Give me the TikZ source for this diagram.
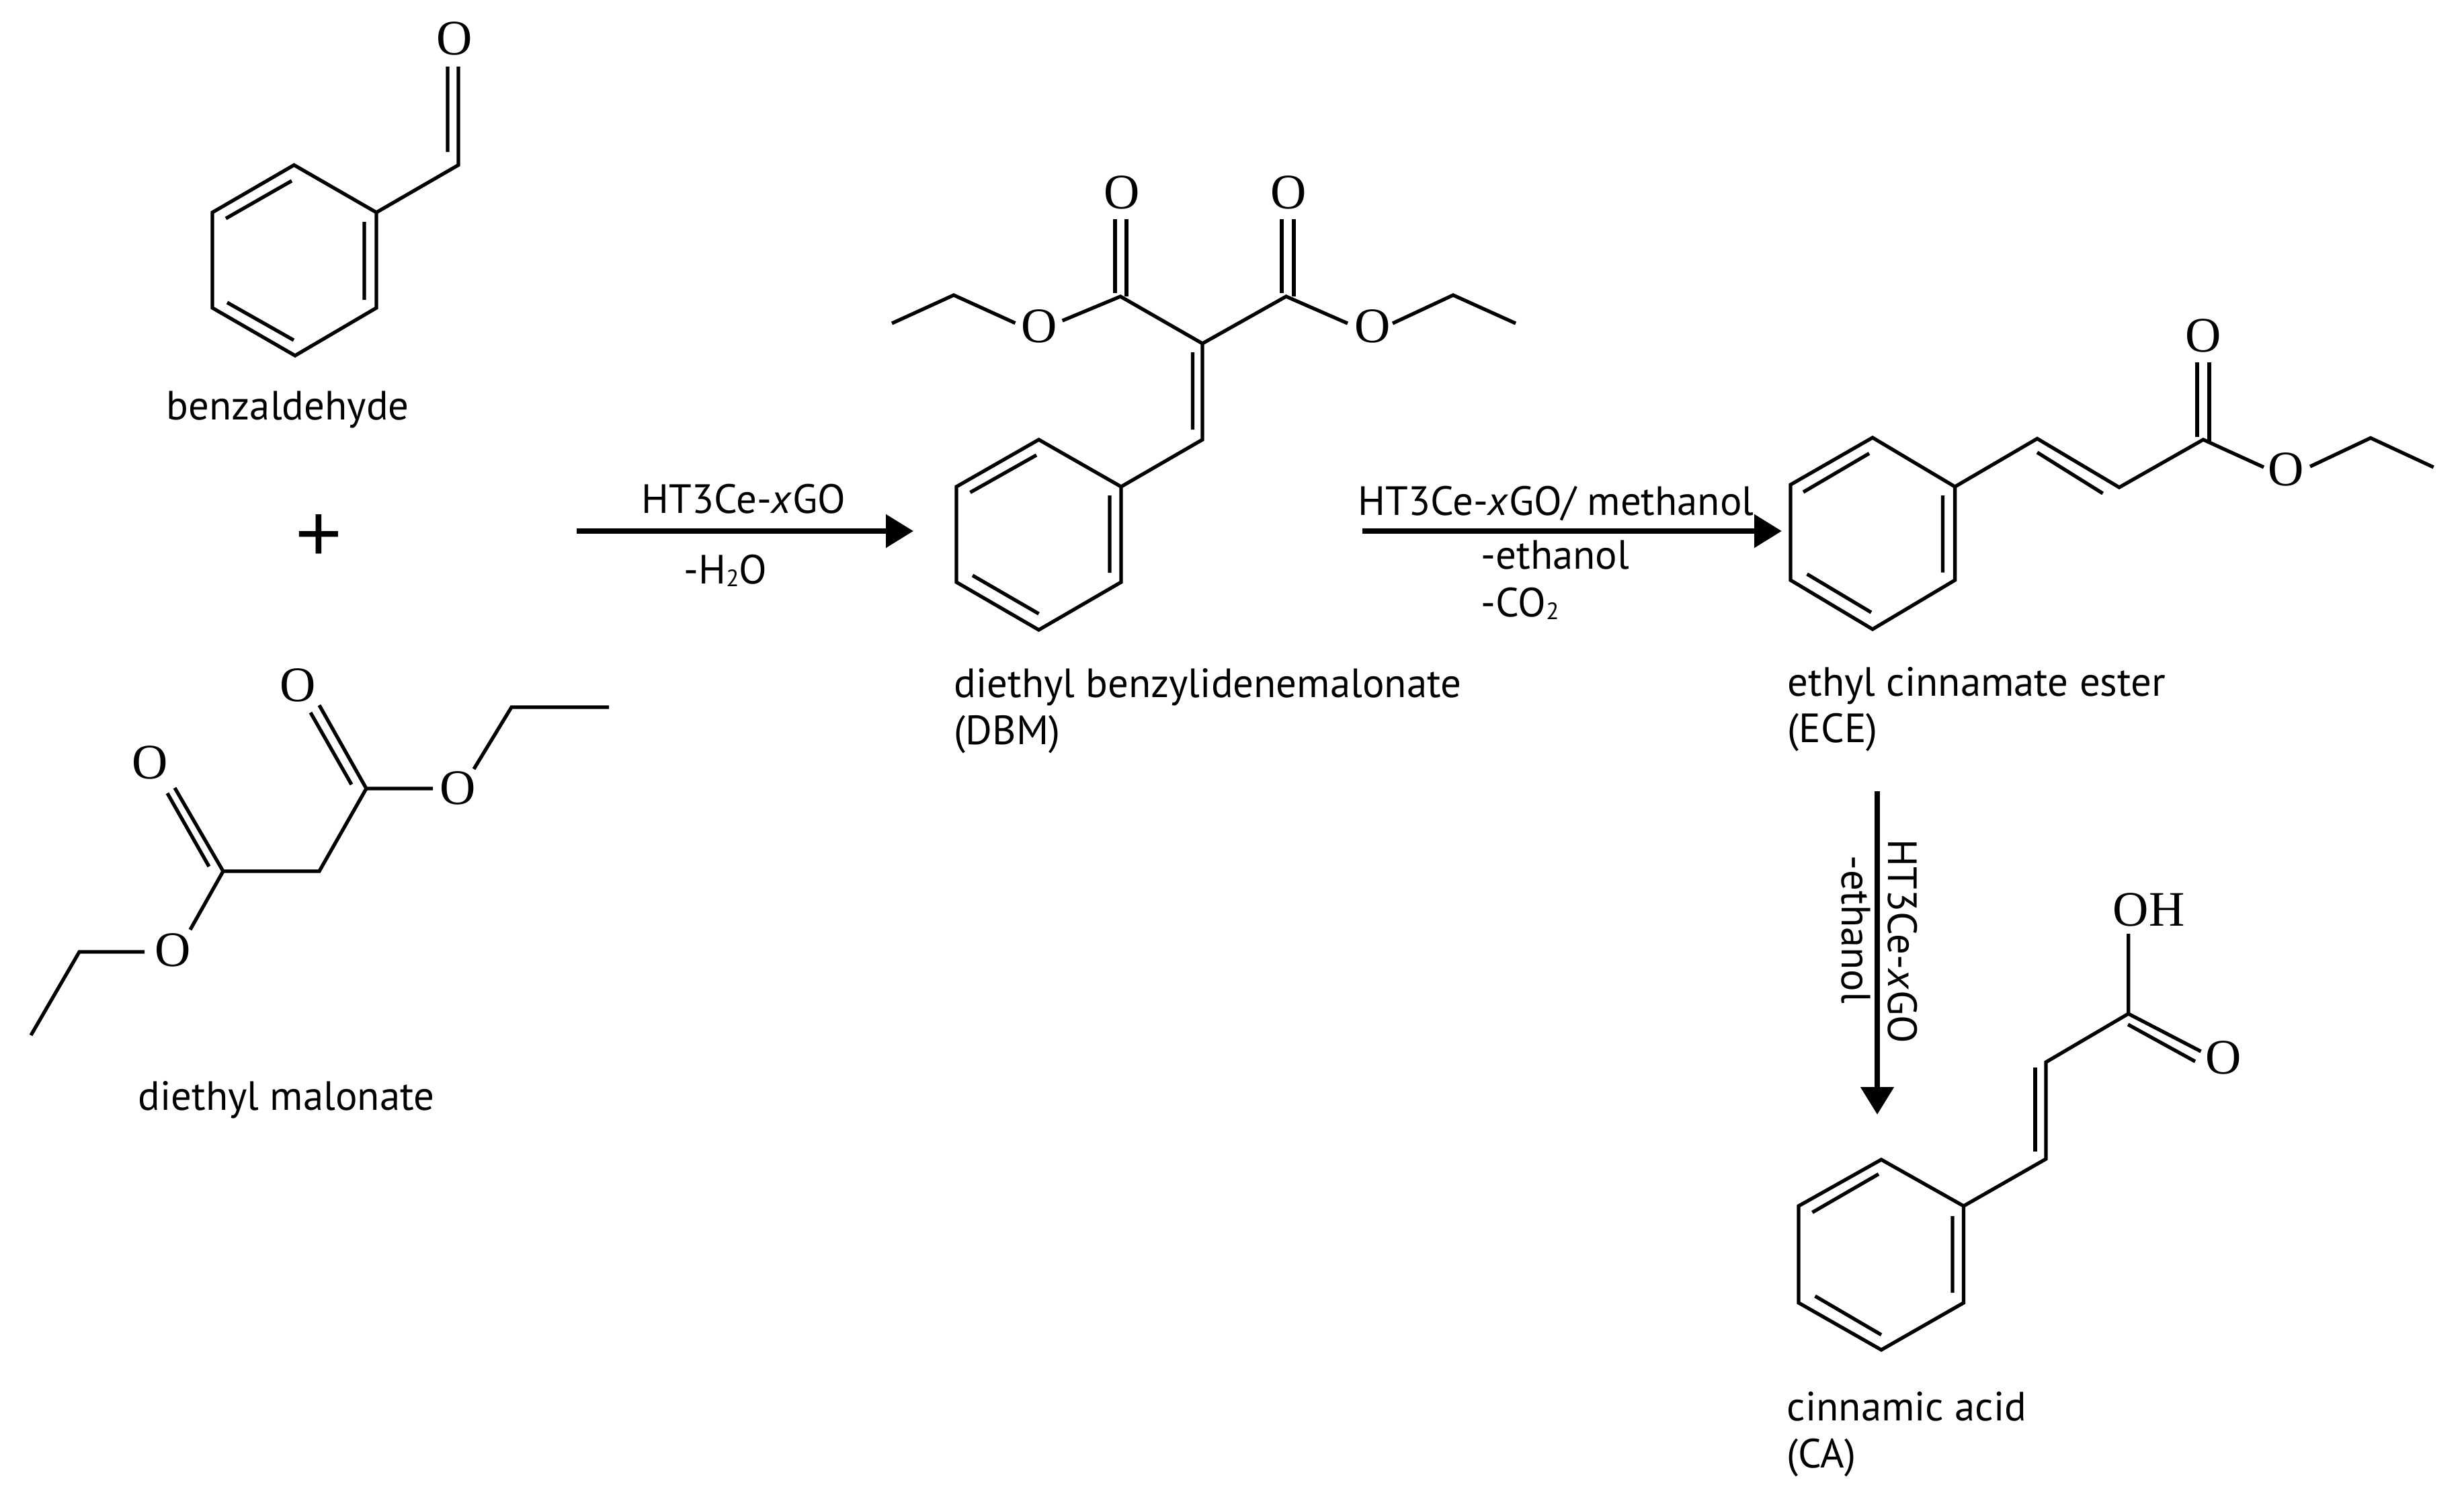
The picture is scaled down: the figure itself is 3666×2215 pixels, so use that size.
\documentclass[tikz,border=0pt]{standalone}
\usepackage{fontspec}
\setmainfont{PT Sans}
\newfontfamily\atomfont{Liberation Serif}
\newfontfamily\plusfont{Liberation Sans}
\usetikzlibrary{arrows.meta}
\tikzset{
  bond/.style={line width=1.5pt,black,line join=miter},
  rxn/.style={line width=2.3pt,black,-{Triangle[length=11.6pt,width=13.6pt]}},
  atom/.style={inner sep=0pt,font=\atomfont\fontsize{21}{21}\selectfont,text=black},
  lab/.style={inner sep=0pt,anchor=base west,font=\fontsize{17.3}{17.3}\selectfont,text=black},
  vlab/.style={lab,rotate=-90}
}
\newcommand{\sbt}[1]{\raisebox{-0.08em}{\fontsize{10}{10}\selectfont #1}}
\begin{document}
\begin{tikzpicture}[x=0.01cm,y=-0.01cm]
\useasboundingbox (0,0) rectangle (3666,2215);
% benzaldehyde
\draw[bond] (437.5,245.5)--(560,316)--(560,458)--(439,529)--(316,458)--(316,316)--cycle;
\draw[bond] (542,330)--(542,446) (336,325)--(434,269) (338,450)--(437,506);
\draw[bond] (560,316)--(682,245.5)--(682,99) (666,99)--(666,226);
\node[atom] (oA) at (676,57) {O};
\node[lab] (nA) at (247,624) {benzaldehyde};
\node[inner sep=0pt,font=\plusfont\fontsize{34}{34}\selectfont] (plus) at (474.5,800) {+};
% diethyl malonate
\draw[bond] (475,1049)--(545,1173)--(644,1173);
\draw[bond] (462,1060)--(523,1167);
\draw[bond] (705,1144)--(761,1052)--(906,1052);
\draw[bond] (545,1173)--(475,1296)--(332,1296)--(260,1172);
\draw[bond] (249,1180)--(311,1289);
\draw[bond] (332,1296)--(283,1383);
\draw[bond] (215,1416)--(118,1416)--(46,1540);
\node[atom] (oB1) at (443,1019) {O};
\node[atom] (oB2) at (681,1172) {O};
\node[atom] (oB3) at (223,1134) {O};
\node[atom] (oB4) at (257,1413) {O};
\node[lab] (nB) at (205,1651) {diethyl malonate};
% arrow 1
\coordinate (a1s) at (858,790);
\coordinate (a1e) at (1359,790);
\draw[rxn] (a1s)--(a1e);
\node[lab] (t1) at (954,763) {HT3Ce-\textit{x}GO};
\node[lab] (t2) at (1017,868) {-H\sbt{2}O};
% DBM
\draw[bond] (1545.5,654)--(1668,724)--(1668,866)--(1545.5,937)--(1423,866)--(1423,724)--cycle;
\draw[bond] (1651,737)--(1651,852) (1443.5,732.5)--(1542,677) (1447,856)--(1545.5,913);
\draw[bond] (1668,724)--(1789,654)--(1789,511) (1774.5,524)--(1774.5,639);
\draw[bond] (1580.6,477)--(1667,441)--(1789,511)--(1913.5,441)--(2005,481);
\draw[bond] (1659,436)--(1659,325.6) (1676,441)--(1676,325.6);
\draw[bond] (1907,436)--(1907,325.6) (1925,441)--(1925,325.6);
\draw[bond] (1510.5,480.6)--(1419,439)--(1327,481);
\draw[bond] (2072,481)--(2162,439)--(2255,481);
\node[atom] (oC1) at (1669,286) {O};
\node[atom] (oC2) at (1917,286) {O};
\node[atom] (oC3) at (1546,485) {O};
\node[atom] (oC4) at (2042,485) {O};
\node[lab] (nC1) at (1419,1037) {diethyl benzylidenemalonate};
\node[lab] (nC2) at (1419,1107) {(DBM)};
% arrow 2
\coordinate (a2s) at (2027,790);
\coordinate (a2e) at (2651,790);
\draw[rxn] (a2s)--(a2e);
\node[lab] (t3) at (2020,766) {HT3Ce-\textit{x}GO/ methanol};
\node[lab] (t4) at (2203,846) {-ethanol};
\node[lab] (t5) at (2203,917) {-CO\sbt{2}};
% ECE
\draw[bond] (2786,651)--(2908.6,724)--(2908.6,863)--(2786,936)--(2664,863)--(2664,721)--cycle;
\draw[bond] (2890.5,737)--(2890.5,851.5) (2683,732)--(2781,674.5) (2688.6,854)--(2784,911);
\draw[bond] (2908.6,724)--(3031,652.5)--(3153,725)--(3278,654)--(3368,695);
\draw[bond] (3031,673)--(3128.6,734);
\draw[bond] (3269,650)--(3269,539) (3287,660)--(3287,539);
\draw[bond] (3437,694)--(3527,651.5)--(3620.6,695);
\node[atom] (oD1) at (3278,499.5) {O};
\node[atom] (oD2) at (3401,698) {O};
\node[lab] (nD1) at (2659,1035) {ethyl cinnamate ester};
\node[lab] (nD2) at (2659,1104) {(ECE)};
% arrow 3
\coordinate (a3s) at (2793,1177);
\coordinate (a3e) at (2793,1658);
\draw[rxn] (a3s)--(a3e);
\node[vlab] (t6) at (2809,1248) {HT3Ce-\textit{x}GO};
\node[vlab] (t7) at (2740,1272) {-ethanol};
% CA
\draw[bond] (2799,1725)--(2921.5,1794)--(2921.5,1938)--(2799,2008)--(2676,1938)--(2676,1794)--cycle;
\draw[bond] (2905,1809)--(2905,1923) (2696.4,1803.5)--(2795,1746.5) (2700.5,1928)--(2799,1985.6);
\draw[bond] (2921.5,1794)--(3044,1724)--(3044,1580)--(3166.6,1508)--(3166.6,1389);
\draw[bond] (3028,1588)--(3028,1712.5);
\draw[bond] (3166.6,1508)--(3274.5,1564) (3166,1524)--(3266,1579);
\node[atom,anchor=west] (oE1) at (3143,1353) {OH};
\node[atom] (oE2) at (3308,1573) {O};
\node[lab] (nE1) at (2658,2113) {cinnamic acid};
\node[lab] (nE2) at (2658,2183) {(CA)};
\end{tikzpicture}
\end{document}
